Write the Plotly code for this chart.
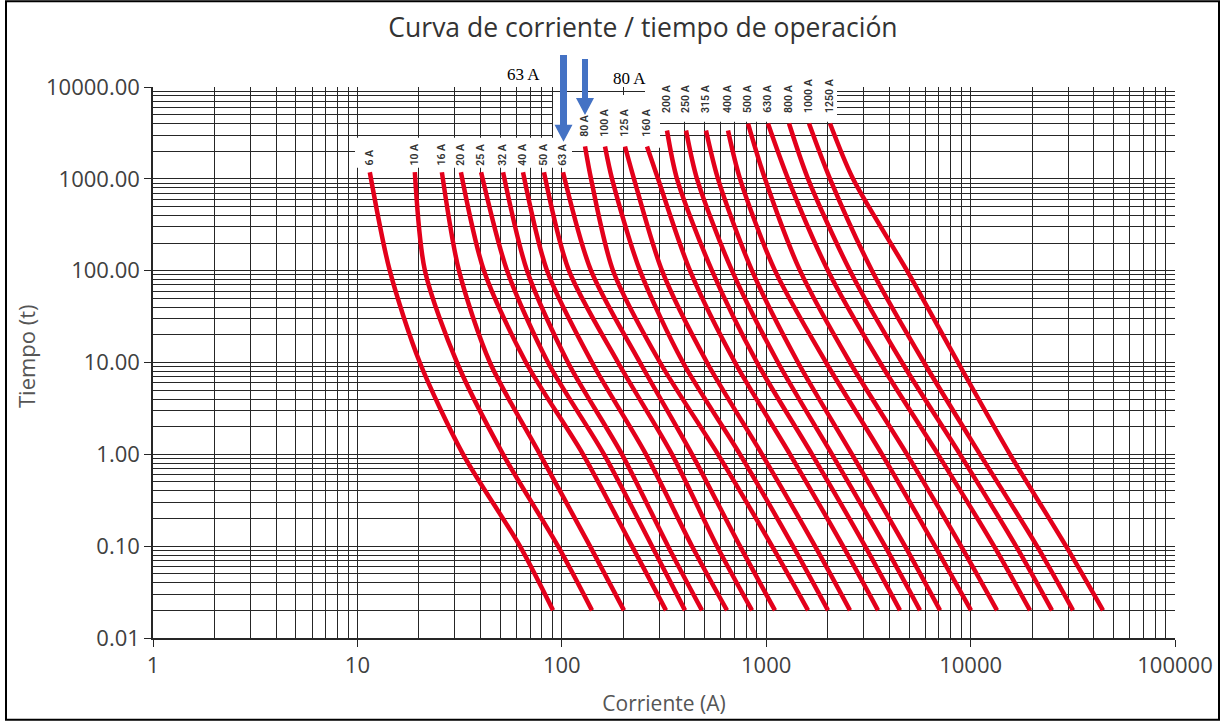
import math
import plotly.graph_objects as go

# Sample times (s) for each family of fuse ratings
t_small = [1180, 100, 10, 1, 0.1, 0.02]            # 6 A ... 63 A
t_medium = [2250, 1000, 100, 10, 1, 0.1, 0.02]     # 80 A ... 160 A
t_large_a = [3360, 1000, 100, 10, 1, 0.1, 0.02]    # 200 A ... 400 A
t_large_b = [4000, 1000, 100, 10, 1, 0.1, 0.02]    # 500 A ... 1250 A

# Operating current (A) reached at each of those times
i_6 = [11.5, 14.4, 20.2, 32.9, 62.4, 90.6]
i_10 = [19.1, 21.4, 30.7, 51.6, 95.8, 140.5]
i_16 = [25.9, 31.4, 44.5, 78.2, 137.4, 201.5]
i_20 = [32.1, 41.6, 66.8, 127.0, 220.6, 323.4]
i_25 = [40.3, 54.0, 85.6, 160.9, 276.3, 400.7]
i_32 = [51.6, 67.6, 107.2, 197.0, 330.8, 485.2]
i_40 = [64.6, 84.7, 140.5, 258.2, 433.6, 643.0]
i_50 = [81.8, 108.4, 188.4, 346.1, 574.4, 852.3]
i_63 = [101.4, 139.0, 241.3, 433.6, 744.5, 1104]
i_80 = [129.9, 139.0, 178.1, 302.4, 581.0, 1068, 1602]
i_100 = [162.7, 176.1, 241.3, 391.7, 744.5, 1352, 2006]
i_125 = [203.8, 225.5, 309.2, 513.3, 953.9, 1733, 2570]
i_160 = [261.1, 295.6, 423.9, 703.9, 1308, 2376, 3524]
i_200 = [327.1, 366.1, 543.0, 901.6, 1675, 3044, 4514]
i_250 = [405.3, 458.6, 680.2, 1142, 2098, 3814, 5655]
i_315 = [507.5, 581.0, 852.3, 1431, 2629, 4776, 7087]
i_400 = [650.3, 744.5, 1104, 1962, 3686, 6697, 10047]
i_500 = [814.8, 986.5, 1464, 2570, 4885, 8977, 13464]
i_630 = [1020, 1279, 2006, 3604, 6926, 13017, 19530]
i_800 = [1293, 1602, 2570, 4618, 8877, 16685, 25014]
i_1000 = [1620, 2052, 3293, 5916, 11117, 21133, 31696]
i_1250 = [2052, 2659, 4885, 8679, 15587, 29300, 44443]

rating_labels = ["6 A", "10 A", "16 A", "20 A", "25 A", "32 A", "40 A", "50 A", "63 A",
                 "80 A", "100 A", "125 A", "160 A",
                 "200 A", "250 A", "315 A", "400 A",
                 "500 A", "630 A", "800 A", "1000 A", "1250 A"]

x_tickvals = [1, 10, 100, 1000, 10000, 100000]
x_ticktext = ["1", "10", "100", "1000", "10000", "100000"]
y_tickvals = [0.01, 0.1, 1, 10, 100, 1000, 10000]
y_ticktext = ["0.01", "0.10", "1.00", "10.00", "100.00", "1000.00", "10000.00"]

curves = [
    (t_small, i_6), (t_small, i_10), (t_small, i_16), (t_small, i_20), (t_small, i_25),
    (t_small, i_32), (t_small, i_40), (t_small, i_50), (t_small, i_63),
    (t_medium, i_80), (t_medium, i_100), (t_medium, i_125), (t_medium, i_160),
    (t_large_a, i_200), (t_large_a, i_250), (t_large_a, i_315), (t_large_a, i_400),
    (t_large_b, i_500), (t_large_b, i_630), (t_large_b, i_800), (t_large_b, i_1000),
    (t_large_b, i_1250),
]

# Page geometry (px)
W, H = 1227, 724
ML, MR, MT, MB = 153, 52, 87, 84
PW, PH = W - ML - MR, H - MT - MB
X_DECADES, Y_MIN, Y_DECADES = 5, -2, 6


def fx(px):
    return (px - ML) / PW


def fy(py):
    return (H - MB - py) / PH


def ax_x(px):
    return 10 ** (fx(px) * X_DECADES)


def ax_y(py):
    return 10 ** (Y_MIN + fy(py) * Y_DECADES)


RED = "#E3001B"
GRID = "#262626"
BLUE = "#4472C4"

fig = go.Figure()

# white panels behind the label rows: above the grid, below the curves
panel_x, panel_y = [], []
for x0, x1, y0, y1 in [(355, 572, 168, 138), (553, 660, 148, 95), (645, 837, 122, 84)]:
    panel_x += [ax_x(x0), ax_x(x1), ax_x(x1), ax_x(x0), ax_x(x0), None]
    panel_y += [ax_y(y0), ax_y(y0), ax_y(y1), ax_y(y1), ax_y(y0), None]
fig.add_trace(go.Scatter(x=panel_x, y=panel_y, mode="none", fill="toself",
                         fillcolor="white", hoverinfo="skip", showlegend=False,
                         cliponaxis=False))

for (t, i) in curves:
    fig.add_trace(go.Scatter(
        x=i, y=t, mode="lines",
        line=dict(color=RED, width=4.5, shape="spline", smoothing=0.8),
        hoverinfo="skip", showlegend=False,
    ))

# Rating labels, written vertically above the start of each curve
label_rows = [168] * 9 + [139] * 4 + [115] * 9
for name, (t, i), row in zip(rating_labels, curves, label_rows):
    fig.add_annotation(
        x=math.log10(i[0]), xref="x", y=fy(row), yref="paper",
        text=name, textangle=-90, showarrow=False,
        xanchor="center", yanchor="bottom",
        font=dict(family="Roboto", size=10.5, color="#333333", weight=600),
    )

shapes = []


def down_arrow(xc, top, head_top, tip, shaft_w, head_w):
    s = shaft_w / 2
    h = head_w / 2
    pts = [(xc - s, top), (xc + s, top), (xc + s, head_top), (xc + h, head_top),
           (xc, tip), (xc - h, head_top), (xc - s, head_top)]
    path = "M " + " L ".join(f"{fx(a):.5f},{fy(b):.5f}" for a, b in pts) + " Z"
    return dict(type="path", xref="paper", yref="paper", path=path,
                fillcolor=BLUE, line=dict(width=0), layer="above")


shapes.append(down_arrow(563.5, 55, 125, 142, 7, 18))
shapes.append(down_arrow(585, 59, 98, 115, 6, 18))
# outer frame
shapes.append(dict(type="rect", xref="paper", yref="paper", layer="above",
                   x0=fx(6), x1=fx(1219), y0=fy(722), y1=fy(1),
                   line=dict(color="black", width=2), fillcolor="rgba(0,0,0,0)"))

fig.add_annotation(x=fx(523), y=fy(63), xref="paper", yref="paper", text="63 A",
                   showarrow=False, font=dict(family="Liberation Serif", size=17, color="black"))
fig.add_annotation(x=fx(629), y=fy(67), xref="paper", yref="paper", text="80 A",
                   showarrow=False, font=dict(family="Liberation Serif", size=17, color="black"))

# vertical axis title
fig.add_annotation(x=fx(26), y=fy(357), xref="paper", yref="paper", text="Tiempo (t)",
                   textangle=-90, showarrow=False, xanchor="center", yanchor="middle",
                   font=dict(family="Open Sans", size=22, color="#555555"))

axis_common = dict(
    type="log", showgrid=True, gridcolor=GRID, gridwidth=1.3,
    ticks="outside", ticklen=7, tickcolor=GRID, tickwidth=1.3,
    showline=True, linecolor=GRID, linewidth=1.5, zeroline=False,
    minor=dict(dtick="D1", showgrid=True, gridcolor=GRID, gridwidth=1.3, ticks=""),
    tickfont=dict(family="Open Sans", size=22, color="#404040"),
)

fig.update_layout(
    width=W, height=H,
    margin=dict(l=ML, r=MR, t=MT, b=MB),
    paper_bgcolor="white", plot_bgcolor="white",
    title=dict(text="Curva de corriente / tiempo de operación",
               x=643 / W, y=1 - 28 / H, xanchor="center", yanchor="middle",
               font=dict(family="Open Sans", size=26.5, color="#333333")),
    xaxis=dict(axis_common, range=[0, X_DECADES], tickmode="array",
               tickvals=x_tickvals, ticktext=x_ticktext,
               title=dict(text="Corriente (A)", standoff=18,
                          font=dict(family="Open Sans", size=21, color="#555555"))),
    yaxis=dict(axis_common, range=[Y_MIN, Y_MIN + Y_DECADES], tickmode="array",
               tickvals=y_tickvals, ticktext=y_ticktext),
    shapes=shapes,
)

fig.write_html("out.html")
